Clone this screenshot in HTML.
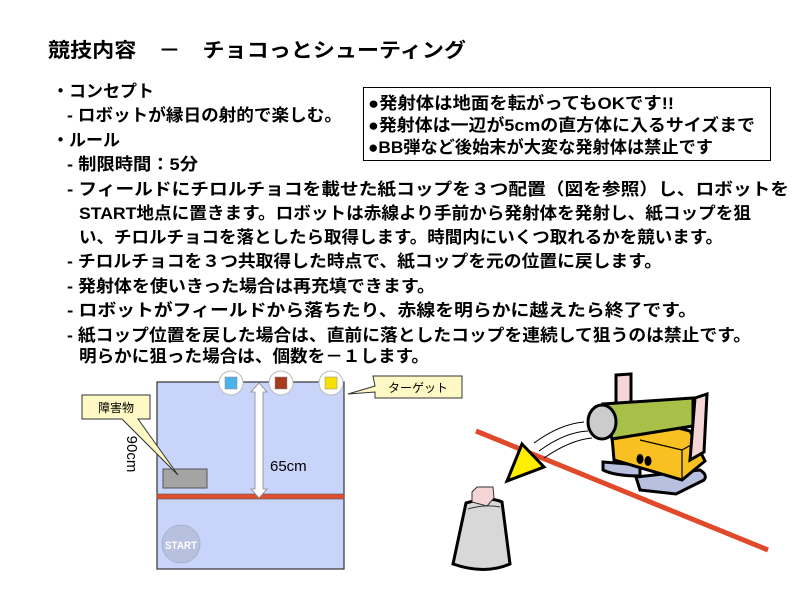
<!DOCTYPE html>
<html><head><meta charset="utf-8"><style>
body{margin:0;background:#fff;width:800px;height:600px;overflow:hidden}
svg{display:block}
text{font-family:"Liberation Sans","Noto Sans CJK JP",sans-serif}
.b{font-weight:bold;font-size:17px;fill:#000}
.bx{font-weight:bold;font-size:17px;fill:#000}
</style></head><body>
<svg width="800" height="600" viewBox="0 0 800 600">
<text x="48" y="57" font-size="20" font-weight="bold" textLength="418" lengthAdjust="spacingAndGlyphs">競技内容　－　チョコっとシューティング</text>
<text class="b" x="52" y="97" textLength="102" lengthAdjust="spacingAndGlyphs">・コンセプト</text>
<text class="b" x="67" y="121" textLength="275" lengthAdjust="spacingAndGlyphs">- ロボットが縁日の射的で楽しむ。</text>
<text class="b" x="52" y="146" textLength="68" lengthAdjust="spacingAndGlyphs">・ルール</text>
<text class="b" x="67" y="170" textLength="131" lengthAdjust="spacingAndGlyphs">- 制限時間：5分</text>
<text class="b" x="67" y="195" textLength="722" lengthAdjust="spacingAndGlyphs">- フィールドにチロルチョコを載せた紙コップを３つ配置（図を参照）し、ロボットを</text>
<text class="b" x="79" y="219" textLength="672" lengthAdjust="spacingAndGlyphs">START地点に置きます。ロボットは赤線より手前から発射体を発射し、紙コップを狙</text>
<text class="b" x="79" y="243" textLength="644" lengthAdjust="spacingAndGlyphs">い、チロルチョコを落としたら取得します。時間内にいくつ取れるかを競います。</text>
<text class="b" x="67" y="267" textLength="595" lengthAdjust="spacingAndGlyphs">- チロルチョコを３つ共取得した時点で、紙コップを元の位置に戻します。</text>
<text class="b" x="67" y="292" textLength="368" lengthAdjust="spacingAndGlyphs">- 発射体を使いきった場合は再充填できます。</text>
<text class="b" x="67" y="316" textLength="630" lengthAdjust="spacingAndGlyphs">- ロボットがフィールドから落ちたり、赤線を明らかに越えたら終了です。</text>
<text class="b" x="67" y="341" textLength="684" lengthAdjust="spacingAndGlyphs">- 紙コップ位置を戻した場合は、直前に落としたコップを連続して狙うのは禁止です。</text>
<text class="b" x="79" y="362" textLength="350" lengthAdjust="spacingAndGlyphs">明らかに狙った場合は、個数を－１します。</text>

<rect x="363.5" y="87.5" width="407" height="73" fill="#fff" stroke="#000" stroke-width="1"/>
<text class="bx" x="368" y="109" textLength="306" lengthAdjust="spacingAndGlyphs">●発射体は地面を転がってもOKです!!</text>
<text class="bx" x="368" y="131" textLength="387" lengthAdjust="spacingAndGlyphs">●発射体は一辺が5cmの直方体に入るサイズまで</text>
<text class="bx" x="368" y="153" textLength="345" lengthAdjust="spacingAndGlyphs">●BB弾など後始末が大変な発射体は禁止です</text>

<rect x="157" y="382" width="187" height="187" fill="#c9d4fb" stroke="#333" stroke-width="1.2"/>
<rect x="157" y="494" width="187" height="5" fill="#e05030" stroke="#555" stroke-width="0.6"/>
<rect x="163" y="469" width="44" height="19" fill="#a4a4a4" stroke="#555"/>
<circle cx="181" cy="544" r="19" fill="#b8c0e0" stroke="#a8b0d0"/>
<text x="181" y="549" font-size="11" font-weight="bold" fill="#fff" text-anchor="middle" textLength="32" lengthAdjust="spacingAndGlyphs">START</text>
<polygon points="259,383 267,392 263,392 263,489 267,489 259,498 251,489 255,489 255,392 251,392" fill="#fff" stroke="#888" stroke-width="0.8"/>
<text x="270" y="471" font-size="15" fill="#000">65cm</text>
<text transform="translate(127,454) rotate(90)" font-size="15" fill="#000" text-anchor="middle">90cm</text>
<circle cx="231" cy="383" r="12" fill="#fff" stroke="#bbb"/><rect x="225" y="377" width="12" height="12" fill="#4ab3ec" stroke="#888" stroke-width="0.5"/>
<circle cx="281" cy="383" r="12" fill="#fff" stroke="#bbb"/><rect x="275" y="377" width="12" height="12" fill="#a83a20" stroke="#888" stroke-width="0.5"/>
<circle cx="331" cy="383" r="12" fill="#fff" stroke="#bbb"/><rect x="325" y="377" width="12" height="12" fill="#f8e000" stroke="#888" stroke-width="0.5"/>
<polygon points="375,386 373,376 462,376 462,398 375,398 375,392 348,394" fill="#fdf8c4" stroke="#333"/>
<text x="418" y="392" font-size="12" text-anchor="middle">ターゲット</text>
<polygon points="82,395 150,395 150,419 138,419 178,475 122,419 82,419" fill="#fdf8c4" stroke="#333"/>
<text x="116" y="412" font-size="12" text-anchor="middle">障害物</text>

<line x1="476" y1="431" x2="768" y2="550" stroke="#e04a2a" stroke-width="5"/>
<path d="M466,503 Q490,496 502,502 L510,564 Q485,575 453,564 Z" fill="#d8d8d8" stroke="#000" stroke-width="3"/>
<path d="M468,509 Q485,504 500,507" fill="none" stroke="#333" stroke-width="1"/>
<polygon points="472,492 477,487 493,487 494,498 487,506 472,502" fill="#f5d5d5" stroke="#333" stroke-width="1"/>
<polygon points="522,444 544,467 507,481" fill="#ffee00" stroke="#000" stroke-width="3"/>
<path d="M534,443 Q560,424 584,422 M539,451 Q565,432 588,431 M544,458 Q570,440 592,438" fill="none" stroke="#000" stroke-width="1"/>
<polygon points="616,375 631,374 631,408 616,410" fill="#f5d5d5" stroke="#000" stroke-width="3"/>
<path d="M603,462 L640,465 L640,476 Q615,476 603,470 Z" fill="#b8c0e0" stroke="#000" stroke-width="3"/>
<path d="M636,477 L700,470 Q708,475 704,480 L676,494 L640,490 Z" fill="#b8c0e0" stroke="#000" stroke-width="3"/>
<polygon points="612,437 652,421 690,431 705,461 682,480 614,460" fill="#f8c020" stroke="#000" stroke-width="3"/>
<path d="M640,440 L682,450 L682,480 M682,450 L700,440" fill="none" stroke="#000" stroke-width="1.2"/>
<ellipse cx="640" cy="459" rx="3.5" ry="5" fill="#000"/><ellipse cx="648" cy="461" rx="3.5" ry="5" fill="#000"/>
<path d="M603,404 L693,398 L693,426 L612,439 Z" fill="#a8c048" stroke="#000" stroke-width="3"/>
<ellipse cx="602" cy="422" rx="14" ry="17" fill="#ccc" stroke="#000" stroke-width="3"/>
<polygon points="695,398 707,394 704,452 690,460" fill="#f5d5d5" stroke="#000" stroke-width="3"/>
</svg>
</body></html>
